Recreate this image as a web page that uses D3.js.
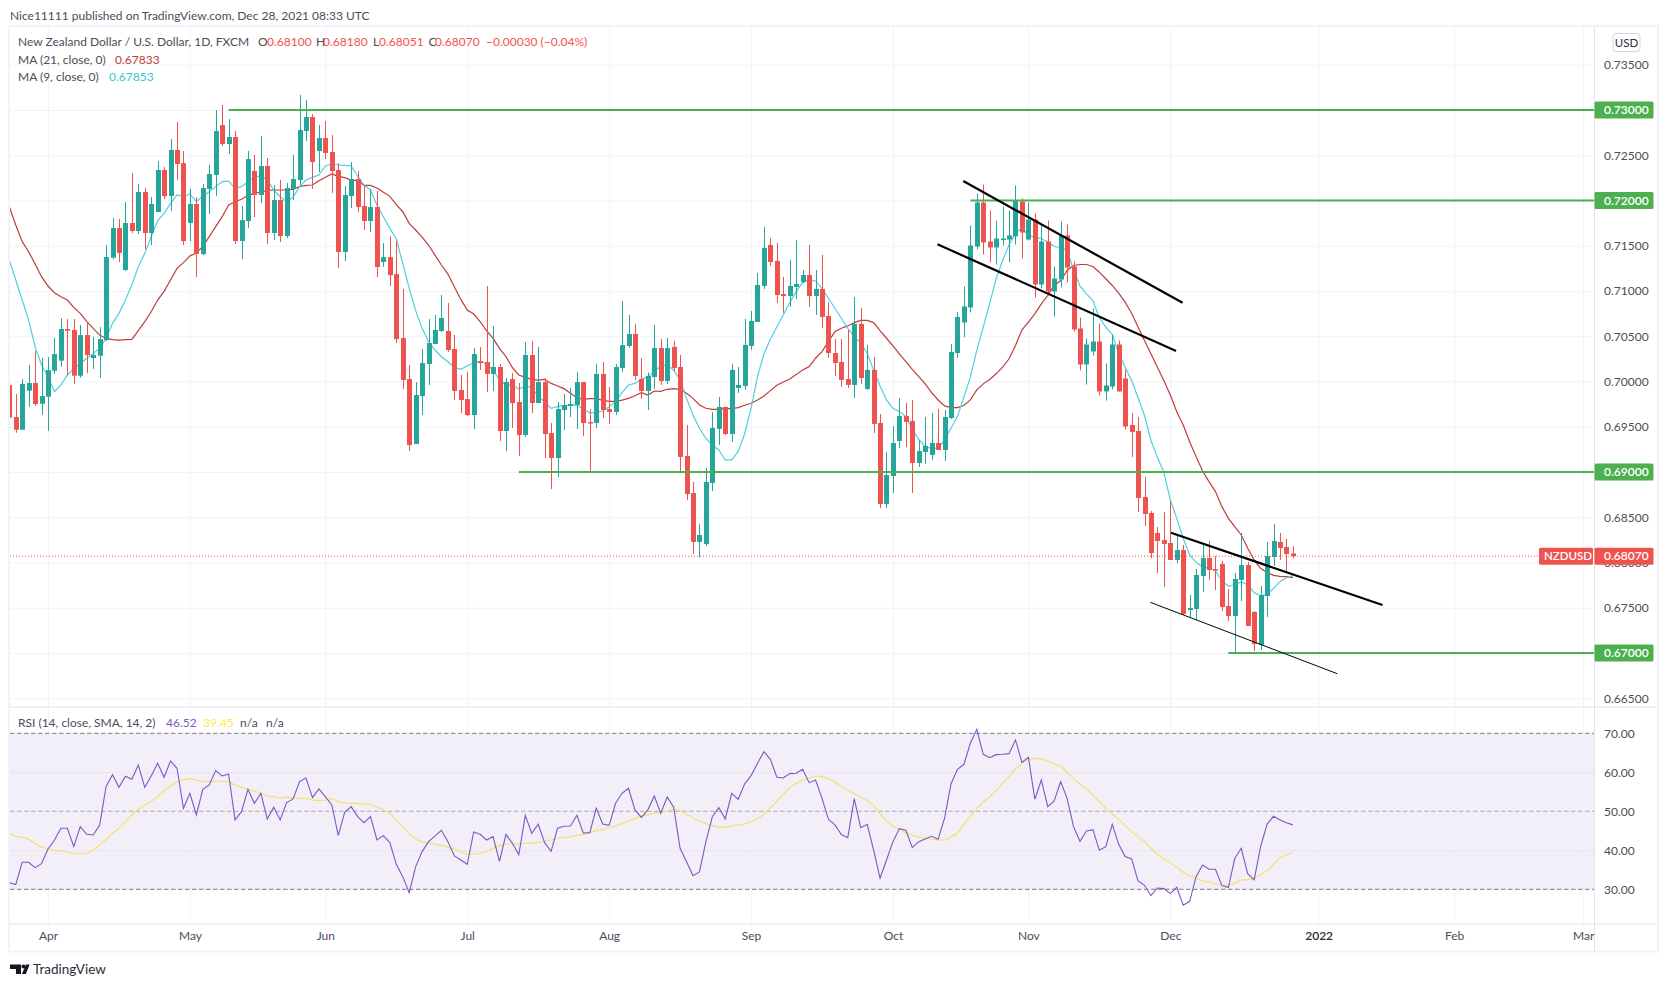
<![CDATA[<!DOCTYPE html>
<html><head><meta charset="utf-8">
<script src="https://cdn.jsdelivr.net/npm/d3@7/dist/d3.min.js"></script>
<style>html,body{margin:0;padding:0;background:#fff}svg{display:block}text{font-family:"Lato","Roboto",sans-serif;font-size:12px}</style>
</head><body><svg id="c" width="1668" height="987"></svg>
<script>
// Prices in points of 0.00001
const opens=[69961,69607,69467,69898,69983,69754,69832,70119,70230,70580,70569,70064,70513,70259,70285,70458,71368,71696,71232,71751,71663,72094,71641,71873,72337,72049,72558,72414,71751,71961,71408,72127,72282,72834,72624,72702,71552,71773,72326,72061,72381,71641,72005,71607,72127,72226,72768,72923,72547,72690,72536,72337,71431,72049,72237,71939,71773,71928,71320,71375,71187,70480,70027,69309,69839,70193,70414,70558,70558,70359,69906,69806,69629,70226,70215,70083,70160,69453,70027,69773,69408,70293,69762,69994,69431,69154,69685,69729,69740,69994,69552,69541,70083,69696,69663,70149,70392,70525,70028,69895,70050,70371,70006,70382,70161,69177,68768,68227,68205,68879,69476,69719,69420,69929,69951,70393,70658,71056,71509,71332,70967,70945,71045,71100,71177,70945,71023,70724,70315,70216,70028,69962,70636,69918,70128,69542,68647,68956,69343,69619,69564,69100,69221,69188,69321,69243,69597,70315,70652,70818,71492,71978,71547,71481,71569,71569,71603,71989,71569,71790,71072,71547,70995,71127,71614,71271,70586,70188,70332,70442,69890,69945,70409,70033,69520,69453,68724,68547,68326,68249,68216,68028,68138,67475,67486,67851,68050,67928,67984,67519,67409,67807,67972,67453,67088,67630,68061,68227,68171,68100];
const closes=[69600,69467,69972,69983,69751,69839,70126,70303,70580,70561,70064,70513,70292,70292,70469,71375,71696,71420,71751,71663,72094,71641,71961,72337,72049,72558,72403,71552,71961,71408,72138,72293,72768,72624,72702,71552,71784,72458,72061,72381,71641,72005,71607,72138,72237,72779,72923,72425,72690,72525,72326,71431,72061,72237,71928,71773,71928,71265,71375,71176,70469,70016,69298,69851,70204,70425,70569,70702,70348,69895,69795,69629,70304,70204,70083,70160,69453,69994,69762,69408,70293,69762,69994,69419,69154,69696,69740,69751,69994,69541,69541,70083,69685,69663,70160,70403,70525,70061,69895,70061,70371,70006,70371,70150,69166,68757,68227,68304,68890,69487,69719,69420,70128,69962,70404,70669,71067,71476,71321,70956,70945,71056,71078,71177,70945,71023,70713,70315,70205,70017,69962,70636,70039,70128,69531,68647,68967,69321,69619,69553,69100,69232,69288,69321,69243,69608,70327,70713,70829,71503,71978,71536,71481,71580,71580,71614,72000,71647,71790,71072,71547,70995,71138,71614,71260,70575,70188,70409,70442,69890,69956,70409,69890,69503,69442,68713,68536,68105,68238,68204,68028,68138,67431,67497,67862,68050,67917,67917,67508,67409,67818,67972,67298,67099,67641,68072,68238,68160,68094,68070];
const highs=[69961,69861,70027,70182,70336,70259,70270,70480,70701,70690,70690,70624,70657,70491,70602,71508,71806,71795,71983,72304,72182,72138,72038,72436,72370,72679,72867,72547,72127,72038,72182,72392,73000,73055,72900,72768,71939,72547,72503,72713,72469,72171,72226,72193,72503,73166,73110,72956,72834,72878,72724,72414,72160,72425,72326,72171,72127,72105,71530,71607,71552,71022,70182,69994,70359,70690,70735,70956,70867,70514,70072,70105,70370,70381,71055,70613,70193,70038,70094,69983,70436,70447,70381,70038,69541,69773,69862,69928,70105,69994,69696,70193,70215,69939,70193,70889,70735,70635,70257,70102,70625,70470,70481,70448,70293,69520,68890,68426,69045,69663,69829,69719,70194,70161,70691,70780,71200,71708,71586,71531,71155,71343,71564,71233,71509,71233,71399,70879,70470,70470,70570,70934,70813,70404,70271,69641,69221,69509,69818,69763,69796,69354,69608,69652,69697,69685,70415,70769,71050,71724,72078,72177,71890,71779,71934,71890,72166,72023,71978,71857,71724,71779,71271,71768,71735,71326,70707,70475,70807,70641,70199,70520,70453,70133,69652,69608,68945,68569,68392,68558,68680,68315,68193,67641,67928,68205,68238,68072,68017,67707,67884,68326,68006,67464,67740,68227,68426,68326,68260,68180];
const lows=[69600,69434,69467,69721,69732,69633,69456,70086,70163,70071,69975,70042,70093,70138,70042,70447,71353,71320,71221,71641,71630,71464,71508,71873,72016,71884,72226,71508,71552,71154,71397,71851,72049,72602,72514,71519,71353,71696,71817,71972,71519,71563,71541,71585,72005,72171,72657,72127,72315,72458,72083,71254,71331,71917,71873,71674,71652,71154,71265,71055,70425,69917,69232,69309,69629,69961,70414,70547,70326,69795,69652,69618,69475,70127,69884,69895,69342,69232,69486,69176,69386,69652,69762,69154,68812,68944,69464,69607,69475,69397,69000,69486,69596,69530,69629,70105,70370,70016,69807,69685,69918,69962,69973,70105,69000,68691,68094,68057,68182,68790,69299,69409,69332,69873,69907,70349,70658,71023,71277,70868,70758,70824,70912,71089,70824,70735,70592,70260,70061,69940,69929,69818,69973,69907,69431,68602,68602,68768,69266,69277,68768,69056,69089,69133,69243,69122,69586,70260,70490,70763,71459,71404,71315,71293,71503,71315,71514,71359,71558,70928,71028,70951,70718,71039,71094,70553,70122,69967,70287,69845,69790,69912,69890,69470,69166,68558,68403,68050,67884,67729,68028,67995,67420,67398,67365,67674,67807,67696,67464,67353,67011,67575,67298,67022,67033,67398,67961,68028,67895,68051];
const ma21=[71932,71729,71545,71434,71298,71158,71055,70981,70937,70900,70819,70753,70664,70587,70513,70476,70462,70458,70462,70465,70561,70661,70771,70900,70996,71121,71250,71313,71386,71423,71490,71600,71711,71821,71950,71987,72013,72057,72079,72094,72112,72116,72116,72116,72123,72153,72167,72171,72219,72256,72293,72267,72252,72226,72219,72167,72167,72138,72090,72046,71954,71876,71747,71674,71596,71508,71397,71287,71187,71047,70907,70790,70745,70661,70561,70476,70366,70274,70153,70072,70046,70024,70016,70024,69979,69950,69921,69869,69821,69803,69810,69810,69792,69781,69781,69795,69814,69843,69877,69851,69895,69892,69914,69921,69914,69870,69814,69741,69704,69693,69693,69704,69700,69711,69737,69759,69796,69840,69899,69958,69995,70028,70076,70128,70164,70257,70330,70441,70551,70588,70614,70651,70676,70676,70651,70562,70478,70393,70304,70220,70135,70054,69973,69877,69796,69730,69711,69711,69735,69797,69908,69974,70022,70085,70158,70251,70398,70571,70656,70748,70858,70950,71061,71116,71227,71282,71293,71293,71271,71208,71135,71061,70976,70877,70755,70601,70453,70306,70158,70011,69851,69667,69520,69335,69170,69011,68893,68783,68617,68488,68396,68304,68157,68028,67936,67888,67858,67847,67843,67833];
const ma9=[71342,71121,70900,70679,70384,70182,70053,69887,69961,70071,70145,70200,70255,70311,70366,70476,70642,70753,70900,71066,71268,71416,71600,71777,71858,71968,72061,72042,72072,71987,72049,72097,72153,72208,72215,72134,72153,72208,72256,72271,72226,72116,72042,71987,72035,72153,72226,72256,72282,72381,72403,72392,72388,72381,72271,72171,72116,71950,71821,71692,71574,71305,71029,70783,70587,70440,70348,70274,70219,70156,70134,70171,70208,70219,70193,70127,70016,69961,69961,69917,69950,69935,69832,69777,69703,69722,69733,69740,69740,69692,69655,69659,69674,69722,69777,69876,69961,69979,70024,70054,70109,70172,70183,70128,70017,69814,69630,69483,69372,69299,69243,69133,69133,69225,69420,69704,70054,70304,70466,70606,70735,70872,70993,71096,71122,71111,71030,70920,70809,70699,70588,70496,70422,70312,70128,69951,69796,69704,69667,69612,69472,69361,69280,69262,69262,69354,69483,69612,69827,70048,70343,70601,70866,71135,71337,71510,71639,71698,71614,71595,71577,71544,71492,71481,71448,71234,71054,70969,70895,70704,70601,70520,70313,70158,70011,69820,69624,69348,69164,68998,68691,68488,68267,68083,68002,67954,67936,67910,67796,67740,67751,67788,67751,67667,67630,67648,67714,67788,67832,67853];
const rsi=[31.71,31.2,36.92,36.92,35.56,36.58,40.34,42.65,45.64,45.64,40.94,46.07,44.1,43.93,46.41,56.32,59.4,56.15,58.97,58.2,61.88,56.15,59.06,62.31,58.72,62.91,61.03,50.77,54.62,49.06,55.64,56.75,60.43,59.06,59.57,47.78,49.91,55.64,52.05,54.62,48.03,51.03,47.78,52.22,53.16,57.61,58.55,53.5,55.73,53.76,51.62,43.85,49.74,51.2,48.63,47.09,48.63,42.65,43.76,41.97,36.41,33.25,29.15,35.81,39.66,42.22,43.68,45.13,42.22,38.55,37.52,36.41,44.7,44.1,42.65,43.5,37.18,44.1,41.79,38.89,48.97,44.36,46.67,41.97,39.74,45.64,46.15,46.24,48.97,44.44,44.53,50.77,46.75,46.41,52.05,54.62,55.9,50.34,48.46,50.34,53.93,49.49,53.68,51.03,40.51,37.09,33.5,34.44,42.22,48.63,50.94,48.03,54.62,53.08,57.01,59.15,62.31,65.3,63.33,58.72,58.55,59.66,59.74,60.77,57.35,58.03,53.33,47.95,46.5,44.02,43.25,53.25,45.81,46.67,40.09,32.82,37.52,42.22,45.56,45.13,40.68,42.22,42.91,43.59,42.82,48.21,57.01,60.77,62.05,67.44,71.03,64.62,63.76,64.53,64.62,64.79,68.29,62.56,63.85,53.08,58.03,51.2,52.65,57.61,53.33,46.07,42.31,44.96,45.3,40,40.94,46.67,41.54,38.38,37.78,32.14,31.03,28.38,30.34,30.17,28.89,30.51,25.9,26.92,33.25,36.24,35.13,35.13,30.94,30.43,37.95,40.51,34.02,32.39,40.94,46.67,48.72,47.78,47.09,46.52];
const rsiMa=[44.27,43.59,43.33,42.82,41.79,40.85,40.34,40,39.91,39.49,39.15,39.06,39.15,39.91,41.37,42.82,44.36,45.64,47.35,49.06,50.51,51.62,52.48,53.76,55.21,56.5,57.61,58.03,58.38,58.03,57.69,57.61,57.69,57.69,57.61,56.75,56.15,55.64,55.21,54.62,53.93,53.76,53.33,53.59,53.5,53.33,53.25,52.91,52.74,52.91,53.33,52.48,52.14,52.05,51.97,51.79,51.79,51.03,50.34,49.49,47.78,46.07,44.19,42.91,42.14,41.97,41.54,41.2,40.85,40.26,39.57,38.97,38.97,39.23,39.66,40.51,41.2,41.62,41.62,41.62,41.79,41.79,42.05,42.31,42.65,43.08,43.33,43.42,43.85,44.02,44.53,45.04,45.38,45.73,46.24,46.84,47.52,48.12,48.8,49.15,49.49,49.83,50.09,50.51,50.17,49.23,48.38,47.52,46.84,46.32,45.9,45.9,46.24,46.5,46.75,47.35,48.12,49.23,50.85,52.56,54.36,56.15,57.18,57.95,58.55,59.06,58.89,58.38,57.44,56.32,55.3,54.53,53.68,52.74,51.54,49.4,47.52,46.15,45.38,44.53,43.85,43.33,43.08,42.82,42.65,42.56,43.42,44.36,46.67,48.63,50.77,52.39,53.68,55.3,57.18,58.97,60.85,62.31,63.25,63.5,63.5,62.91,62.22,61.62,60,58.46,57.01,55.73,54.1,52.56,50.68,49.23,47.95,46.32,44.79,43.5,42.31,40.51,38.89,37.78,36.84,35.56,34.36,33.42,32.82,32.22,31.79,31.37,31.11,31.03,31.62,32.39,32.48,32.82,33.76,34.79,36.32,38.03,38.8,39.45];
const priceTicks=[0.735,0.73,0.725,0.72,0.715,0.71,0.705,0.70,0.695,0.69,0.685,0.68,0.675,0.67,0.665];
const rsiTicks=[70,60,50,40,30];
const rsiLevels=[70,50,30];
const monthBars=[6,28,49,71,93,115,137,158,180,203,224,244];
const monthLabels=["Apr","May","Jun","Jul","Aug","Sep","Oct","Nov","Dec","2022","Feb","Mar"];
const levels=[[34,0.73],[149,0.72],[79,0.69],[189,0.67]];
const trendLines=[[147.9,0.72215,181.9,0.70871,2.2],[143.9,0.71516,180.9,0.70337,2.2],[180.1,0.68329,212.9,0.6753,2.2],[176.9,0.6756,205.9,0.66771,1]];
const lastPrice=0.6807;

const L=10,R=1594.5,TOP=27,PB=707,RT=707,RB=924,FB=951.5,FR=1658;
const GREEN="#26a69a",RED="#ef5350",LINE="#4caf50",MA21C="#c23b3b";
const x=d3.scaleLinear().domain([0,199]).range([9.3,9.3+199*6.45]);
const y=d3.scaleLinear().domain([0.73,0.67]).range([110,653]);
const ry=d3.scaleLinear().domain([70,30]).range([733.3,889.3]);
const p=v=>y(v/1e5);
const svg=d3.select("#c");
const TEXT="#4a4e59";
const font="Lato,Roboto,sans-serif";
const defs=svg.append("defs");
defs.append("clipPath").attr("id","main").append("rect").attr("x",L).attr("y",TOP).attr("width",R-L).attr("height",PB-TOP);
defs.append("clipPath").attr("id","rsi").append("rect").attr("x",L).attr("y",RT).attr("width",R-L).attr("height",RB-RT);

// frame
svg.append("rect").attr("x",L-1).attr("y",TOP-1).attr("width",FR-L+1).attr("height",FB-TOP+1).attr("fill","#fff").attr("stroke","#f0f3fa").attr("stroke-width",2);

// grid via axes
const gridX=(top,bot)=>{const g=svg.append("g").attr("transform",`translate(0,${bot})`).call(d3.axisBottom(x).tickValues(monthBars).tickSize(top-bot).tickFormat(""));
 g.select(".domain").remove();g.selectAll("text").remove();g.selectAll("line").attr("stroke","#f0f3fa");};
gridX(TOP,PB);
svg.append("rect").attr("x",L).attr("y",ry(70)).attr("width",R-L).attr("height",ry(30)-ry(70)).attr("fill","#f2eff9");
gridX(RT,RB);
const gy=svg.append("g").attr("transform",`translate(${L},0)`).call(d3.axisRight(y).tickValues(priceTicks).tickSize(R-L).tickFormat(""));
gy.select(".domain").remove();gy.selectAll("text").remove();gy.selectAll("line").attr("stroke","#f0f3fa");
const gr=svg.append("g").attr("transform",`translate(${L},0)`).call(d3.axisRight(ry).tickValues([60,40]).tickSize(R-L).tickFormat(""));
gr.select(".domain").remove();gr.selectAll("text").remove();gr.selectAll("line").attr("stroke","#e7e4f0");

// main pane
const m=svg.append("g").attr("clip-path","url(#main)");
const lineP=d3.line().x((d,i)=>x(i)).y(d=>p(d));
m.append("path").attr("d",lineP(ma21)).attr("fill","none").attr("stroke",MA21C).attr("stroke-width",1.2);
m.append("path").attr("d",lineP(ma9)).attr("fill","none").attr("stroke","#4dd0e1").attr("stroke-width",1.2);
opens.forEach((o,i)=>{const c=closes[i],col=c>=o?GREEN:RED,cx=Math.round(x(i));
 m.append("line").attr("x1",cx+.5).attr("x2",cx+.5).attr("y1",p(highs[i])).attr("y2",p(lows[i])).attr("stroke",col).attr("stroke-width",1);
 const t=p(Math.max(o,c)),b=p(Math.min(o,c));
 m.append("rect").attr("x",cx-2).attr("y",t).attr("width",5).attr("height",Math.max(1.5,b-t)).attr("fill",col);});
m.append("line").attr("x1",L).attr("x2",1539).attr("y1",y(lastPrice)).attr("y2",y(lastPrice)).attr("stroke",RED).attr("stroke-width",1).attr("stroke-dasharray","1 2");
levels.forEach(d=>m.append("line").attr("x1",x(d[0])).attr("x2",R).attr("y1",y(d[1])).attr("y2",y(d[1])).attr("stroke",LINE).attr("stroke-width",2));
trendLines.forEach(d=>m.append("line").attr("x1",x(d[0])).attr("y1",y(d[1])).attr("x2",x(d[2])).attr("y2",y(d[3])).attr("stroke","#000").attr("stroke-width",d[4]));

// rsi pane
const q=svg.append("g").attr("clip-path","url(#rsi)");
rsiLevels.forEach(v=>q.append("line").attr("x1",L).attr("x2",R).attr("y1",ry(v)).attr("y2",ry(v)).attr("stroke","#787b86").attr("stroke-opacity",v===50?.6:1).attr("stroke-dasharray","4.5 2.5"));
const lineR=d3.line().x((d,i)=>x(i)).y(d=>ry(d));
q.append("path").attr("d",lineR(rsiMa)).attr("fill","none").attr("stroke","#f7df5e").attr("stroke-width",1.1);
q.append("path").attr("d",lineR(rsi)).attr("fill","none").attr("stroke","#7e57c2").attr("stroke-width",1.1);

// separators
const sep="#e0e3eb";
svg.append("line").attr("x1",L).attr("x2",FR-1).attr("y1",PB).attr("y2",PB).attr("stroke",sep);
svg.append("line").attr("x1",L).attr("x2",FR-1).attr("y1",RB).attr("y2",RB).attr("stroke",sep);
svg.append("line").attr("x1",R).attr("x2",R).attr("y1",TOP).attr("y2",FB).attr("stroke",sep);

// axes labels
const ax=svg.append("g").attr("transform",`translate(${R},0)`).call(d3.axisRight(y).tickValues(priceTicks).tickSize(0).tickPadding(9.5).tickFormat(d=>d.toFixed(5)));
ax.select(".domain").remove();ax.selectAll("text").attr("fill",TEXT).style("font-family",font).style("font-size","12px");
const ar=svg.append("g").attr("transform",`translate(${R},0)`).call(d3.axisRight(ry).tickValues(rsiTicks).tickSize(0).tickPadding(9.5).tickFormat(d=>d.toFixed(2)));
ar.select(".domain").remove();ar.selectAll("text").attr("fill",TEXT).style("font-family",font).style("font-size","12px");
const at=svg.append("g").attr("transform",`translate(0,${RB})`).call(d3.axisBottom(x).tickValues(monthBars).tickSize(0).tickPadding(7).tickFormat((d,i)=>monthLabels[i]));
at.select(".domain").remove();at.selectAll("text").style("font-family",font).style("font-size","12px").attr("font-weight",(d,i)=>monthLabels[i]==="2022"?600:400).attr("fill",(d,i)=>monthLabels[i]==="2022"?"#2a2e39":TEXT);

// price tags
const tag=(x0,w,yc,fill,txt,tx)=>{svg.append("rect").attr("x",x0).attr("y",yc-8.5).attr("width",w).attr("height",17).attr("rx",1.5).attr("fill",fill);
 return svg.append("text").attr("x",tx).attr("y",yc+4.3).attr("fill","#fff").attr("font-weight",600).text(txt);};
levels.forEach(d=>tag(R,59,y(d[1]),LINE,d[1].toFixed(5),1604));
tag(1539,54,y(lastPrice),RED,"NZDUSD",1544).style("font-size","11.5px");
tag(R,59,y(lastPrice),RED,lastPrice.toFixed(5),1604);

// USD button
svg.append("rect").attr("x",1613).attr("y",33.5).attr("width",27).attr("height",18).attr("rx",3).attr("fill","#fff").attr("stroke","#d1d4dc");
svg.append("text").attr("x",1626.5).attr("y",47).attr("text-anchor","middle").attr("fill","#2a2e39").style("font-size","11.5px").text("USD");

// legends
const t=(tx,ty,s,fill)=>svg.append("text").attr("x",tx).attr("y",ty).attr("fill",fill).text(s);
t(10,19.5,"Nice11111 published on TradingView.com, Dec 28, 2021 08:33 UTC",TEXT);
t(18,46,"New Zealand Dollar / U.S. Dollar, 1D, FXCM",TEXT);
[[258,"O",267,"0.68100"],[316,"H",323,"0.68180"],[373,"L",379,"0.68051"],[428.6,"C",435,"0.68070"]].forEach(a=>{t(a[0],46,a[1],TEXT);t(a[2],46,a[3],RED);});
t(486,46,"−0.00030 (−0.04%)",RED);
t(18,63.5,"MA (21, close, 0)",TEXT);t(115,63.5,"0.67833",MA21C);
t(18,80.5,"MA (9, close, 0)",TEXT);t(109,80.5,"0.67853","#36c5d8");
t(18,727,"RSI (14, close, SMA, 14, 2)",TEXT);t(166,727,"46.52","#7e57c2");t(203,727,"39.45","#ffeb3b");t(240,727,"n/a",TEXT);t(266,727,"n/a",TEXT);

// logo
const lg=svg.append("g").attr("fill","#131722");
lg.append("path").attr("d","M10 964.5h11v9.5h-5v-5h-6z");
lg.append("circle").attr("cx",23.5).attr("cy",966.5).attr("r",2);
lg.append("path").attr("d","M26 964.5h3.6l-3.8 9.5h-3.9z");
svg.append("text").attr("x",33).attr("y",974).attr("fill","#2a2e39").style("font-size","13.5px").text("TradingView");
</script></body></html>]]>
